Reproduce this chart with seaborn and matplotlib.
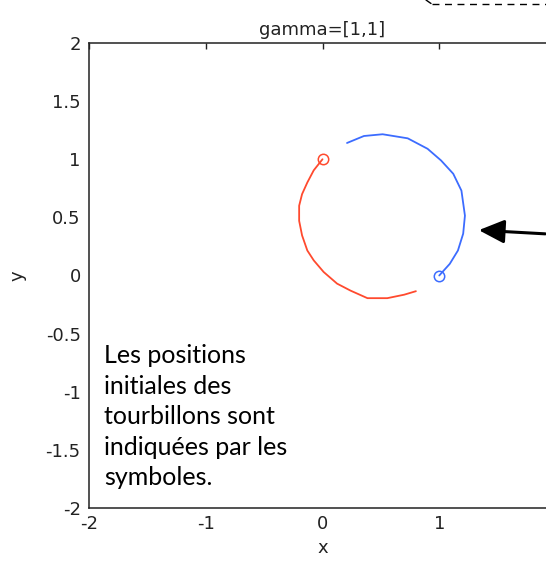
import matplotlib
matplotlib.use("Agg")
import matplotlib.pyplot as plt
import seaborn as sns
import pandas as pd
from matplotlib.patches import FancyArrowPatch
from matplotlib.lines import Line2D

# --- data ---
red_x = [0.00, -0.075, -0.13, -0.175, -0.20, -0.20, -0.175, -0.13, -0.075, 0.01,
         0.125, 0.24, 0.385, 0.555, 0.70, 0.80]
red_y = [1.00, 0.905, 0.80, 0.70, 0.60, 0.47, 0.345, 0.215, 0.13, 0.03,
         -0.07, -0.13, -0.195, -0.195, -0.165, -0.135]
blue_x = [1.00, 1.09, 1.16, 1.205, 1.22, 1.19, 1.12, 1.015, 0.90, 0.73, 0.515, 0.355, 0.21]
blue_y = [0.00, 0.10, 0.215, 0.36, 0.515, 0.73, 0.875, 0.99, 1.09, 1.18, 1.215, 1.20, 1.14]
x_ticks = [-2, -1, 0, 1, 2]
x_tick_labels = ["-2", "-1", "0", "1", "2"]
y_ticks = [-2, -1.5, -1, -0.5, 0, 0.5, 1, 1.5, 2]
y_tick_labels = ["-2", "-1.5", "-1", "-0.5", "0", "0.5", "1", "1.5", "2"]
title = "gamma=[1,1]"
note = "Les positions\ninitiales des\ntourbillons sont\nindiquées par les\nsymboles."

RED = "#ff4a2e"
BLUE = "#3c6cff"
INK = "#222222"

sns.set_style("white")
plt.rcParams['font.family'] = ['DejaVu Sans']

W, H = 546, 570
fig = plt.figure(figsize=(W / 100, H / 100), dpi=100)
ax = fig.add_axes([89 / W, 1 - 508 / H, (556 - 89) / W, (508 - 43) / H])

red_df = pd.DataFrame({"x": red_x, "y": red_y})
blue_df = pd.DataFrame({"x": blue_x, "y": blue_y})
sns.lineplot(data=red_df, x="x", y="y", sort=False, estimator=None, color=RED, lw=1.3, ax=ax)
sns.lineplot(data=blue_df, x="x", y="y", sort=False, estimator=None, color=BLUE, lw=1.3, ax=ax)
ax.plot(red_x[0], red_y[0], marker="o", mfc="none", mec=RED, ms=7.5, mew=1.1, ls="none")
ax.plot(blue_x[0], blue_y[0], marker="o", mfc="none", mec=BLUE, ms=7.5, mew=1.1, ls="none")

ax.set_xlim(-2, 2)
ax.set_ylim(-2, 2)
ax.set_xticks(x_ticks)
ax.set_xticklabels(x_tick_labels)
ax.set_yticks(y_ticks)
ax.set_yticklabels(y_tick_labels)
ax.tick_params(direction="in", length=4, width=1, top=True, right=True,
               labelsize=13, pad=6, colors=INK)
ax.tick_params(axis="x", pad=5)
for s in ax.spines.values():
    s.set_color(INK)
    s.set_linewidth(1.1)
    s.set_visible(True)
ax.set_title(title, fontsize=13, pad=6, color=INK)
ax.set_xlabel("x", fontsize=13, color=INK)
ax.set_ylabel("y", fontsize=13, color=INK)
ax.xaxis.set_label_coords(0.5, (508 - 539) / 465)
ax.yaxis.set_label_coords((27 - 89) / 467, 0.5)

# annotation text
fig.text(104 / W, 1 - 344 / H, note, ha="left", va="top", fontsize=18,
         family=["Lato", "DejaVu Sans"], color="black", linespacing=1.4)

# arrow pointing at the blue trajectory
arr = FancyArrowPatch((548 / W, 1 - 234 / H), (476 / W, 1 - 230 / H),
                      transform=fig.transFigure, arrowstyle="-|>,head_length=1.3,head_width=0.6",
                      mutation_scale=12, lw=2.2, color="black")
fig.patches.append(arr)

# dashed callout border in the top right corner
fig.lines.append(Line2D([432 / W, 1.0], [1 - 4 / H, 1 - 4 / H], transform=fig.transFigure,
                        color="black", lw=1.0, ls=(0, (5, 4))))
fig.lines.append(Line2D([426 / W, 431 / W], [1 - 0 / H, 1 - 3.5 / H], transform=fig.transFigure,
                        color="black", lw=1.0))

fig.savefig("out.png", dpi=100)
